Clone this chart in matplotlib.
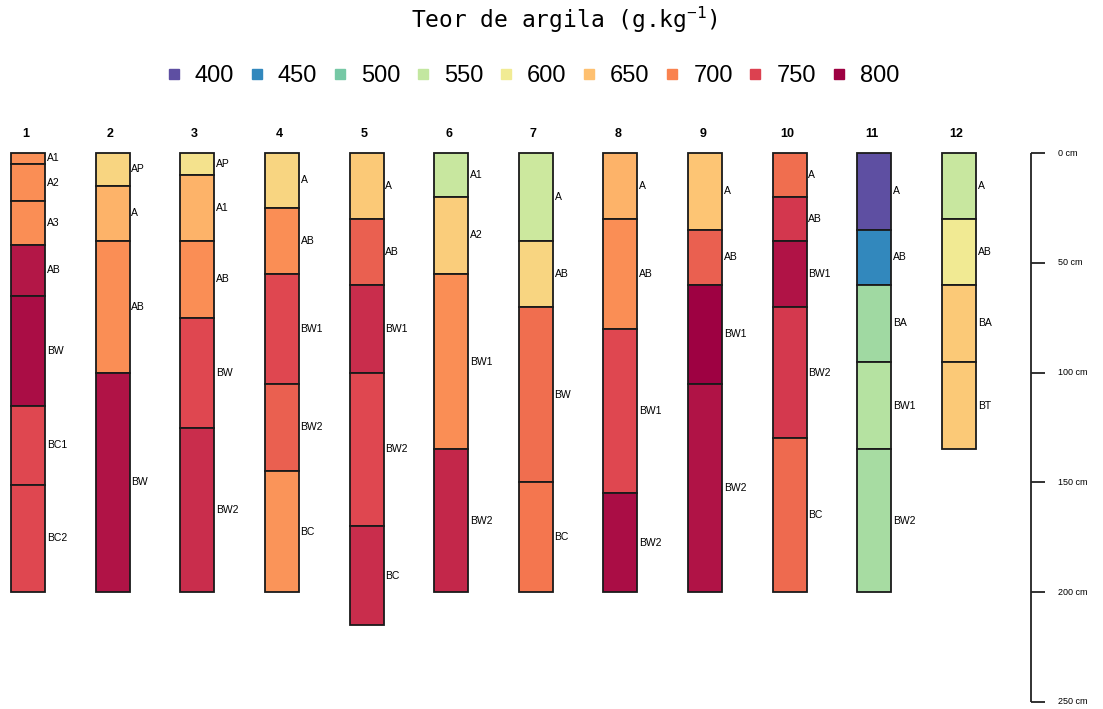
import matplotlib.pyplot as plt
import numpy as np
from matplotlib.colors import LinearSegmentedColormap
from matplotlib.lines import Line2D

# clay content legend classes and their colours
legend_values = [400, 450, 500, 550, 600, 650, 700, 750, 800]
legend_colors = ['#5E4FA2', '#3288BD', '#76C8A5', '#C3E7A0', '#F1EB94',
                 '#FEC070', '#F9824F', '#DC4150', '#9E0142']

profiles = ['1', '2', '3', '4', '5', '6', '7', '8', '9', '10', '11', '12']

# horizon boundaries (cm) per profile
depths = [
    [0, 5, 22, 42, 65, 115, 151, 200],
    [0, 15, 40, 100, 200],
    [0, 10, 40, 75, 125, 200],
    [0, 25, 55, 105, 145, 200],
    [0, 30, 60, 100, 170, 215],
    [0, 20, 55, 135, 200],
    [0, 40, 70, 150, 200],
    [0, 30, 80, 155, 200],
    [0, 35, 60, 105, 200],
    [0, 20, 40, 70, 130, 200],
    [0, 35, 60, 95, 135, 200],
    [0, 30, 60, 95, 135],
]

horizons = [
    ['A1', 'A2', 'A3', 'AB', 'BW', 'BC1', 'BC2'],
    ['AP', 'A', 'AB', 'BW'],
    ['AP', 'A1', 'AB', 'BW', 'BW2'],
    ['A', 'AB', 'BW1', 'BW2', 'BC'],
    ['A', 'AB', 'BW1', 'BW2', 'BC'],
    ['A1', 'A2', 'BW1', 'BW2'],
    ['A', 'AB', 'BW', 'BC'],
    ['A', 'AB', 'BW1', 'BW2'],
    ['A', 'AB', 'BW1', 'BW2'],
    ['A', 'AB', 'BW1', 'BW2', 'BC'],
    ['A', 'AB', 'BA', 'BW1', 'BW2'],
    ['A', 'AB', 'BA', 'BT'],
]

# clay content (g/kg) per horizon, estimated from the colours
clay = [
    [688, 690, 690, 782, 790, 745, 745],
    [625, 660, 690, 785],
    [610, 660, 690, 745, 765],
    [625, 690, 745, 725, 685],
    [640, 725, 765, 745, 765],
    [555, 635, 690, 770],
    [560, 625, 715, 708],
    [660, 690, 745, 790],
    [645, 725, 800, 785],
    [715, 757, 785, 755, 718],
    [400, 450, 528, 542, 532],
    [555, 600, 640, 640],
]

depth_ticks = [0, 50, 100, 150, 200, 250]

plt.rcParams['mathtext.fontset'] = 'custom'
plt.rcParams['mathtext.rm'] = 'DejaVu Sans Mono'

cmap = LinearSegmentedColormap.from_list(
    'clay', list(zip((np.array(legend_values) - 400) / 400, legend_colors)))

fig = plt.figure(figsize=(11.03, 7.09), dpi=100)

# axes placed so that depth 0 cm sits at y=153 px and 250 cm at y=702 px
px_cm = (702 - 153) / 250
y_top, y_bot = -12, 253
ax_top = 153 + y_top * px_cm
ax_bot = 153 + y_bot * px_cm
ax = fig.add_axes([0, 1 - ax_bot / 709, 1, (ax_bot - ax_top) / 709])
step = 84.64
ax.set_xlim(1 - 28 / step, 1 + (1103 - 28) / step)
ax.set_ylim(y_bot, y_top)
ax.axis('off')

bar_w = 34 / step
for i, name in enumerate(profiles):
    x = i + 1
    d = np.array(depths[i])
    tops, bots = d[:-1], d[1:]
    cols = [cmap((c - 400) / 400) for c in clay[i]]
    ax.bar(x, bots - tops, bottom=tops, width=bar_w, color=cols,
           edgecolor='#1a1a1a', linewidth=1.3, zorder=2)
    for t, b, h in zip(tops, bots, horizons[i]):
        ax.text(x + bar_w / 2 + 0.02, (t + b) / 2, h, fontsize=7.5,
                family='Liberation Sans', ha='left', va='center')
    ax.text(x - 0.03, -6, name, fontsize=9, fontweight='bold',
            family='Liberation Sans', ha='center', va='bottom')

# depth scale
xs = 1 + (1031 - 28) / step
tick_len = 14 / step
ax.vlines(xs, depth_ticks[0], depth_ticks[-1], color='#222222', lw=1.3)
ax.hlines(depth_ticks, xs, xs + tick_len, color='#222222', lw=1.3)
for d in depth_ticks:
    ax.text(xs + tick_len + 0.15, d, f'{d} cm', fontsize=6.5,
            family='Liberation Sans', ha='left', va='center')

fig.text(0.512, 1 - 20 / 709, r'Teor de argila (g.kg$^{-1}$)', fontsize=16.5,
         family='DejaVu Sans Mono', ha='center', va='center')

handles = [Line2D([], [], marker='s', ls='', color=c, markersize=7)
           for c in legend_colors]
fig.legend(handles, [str(v) for v in legend_values], ncol=9,
           loc='center', bbox_to_anchor=(0.482, 1 - 76 / 709), frameon=False,
           prop={'family': 'Liberation Sans', 'size': 17},
           handletextpad=0.5, columnspacing=0.55, handlelength=0.8)

fig.savefig('out.png', dpi=100)
